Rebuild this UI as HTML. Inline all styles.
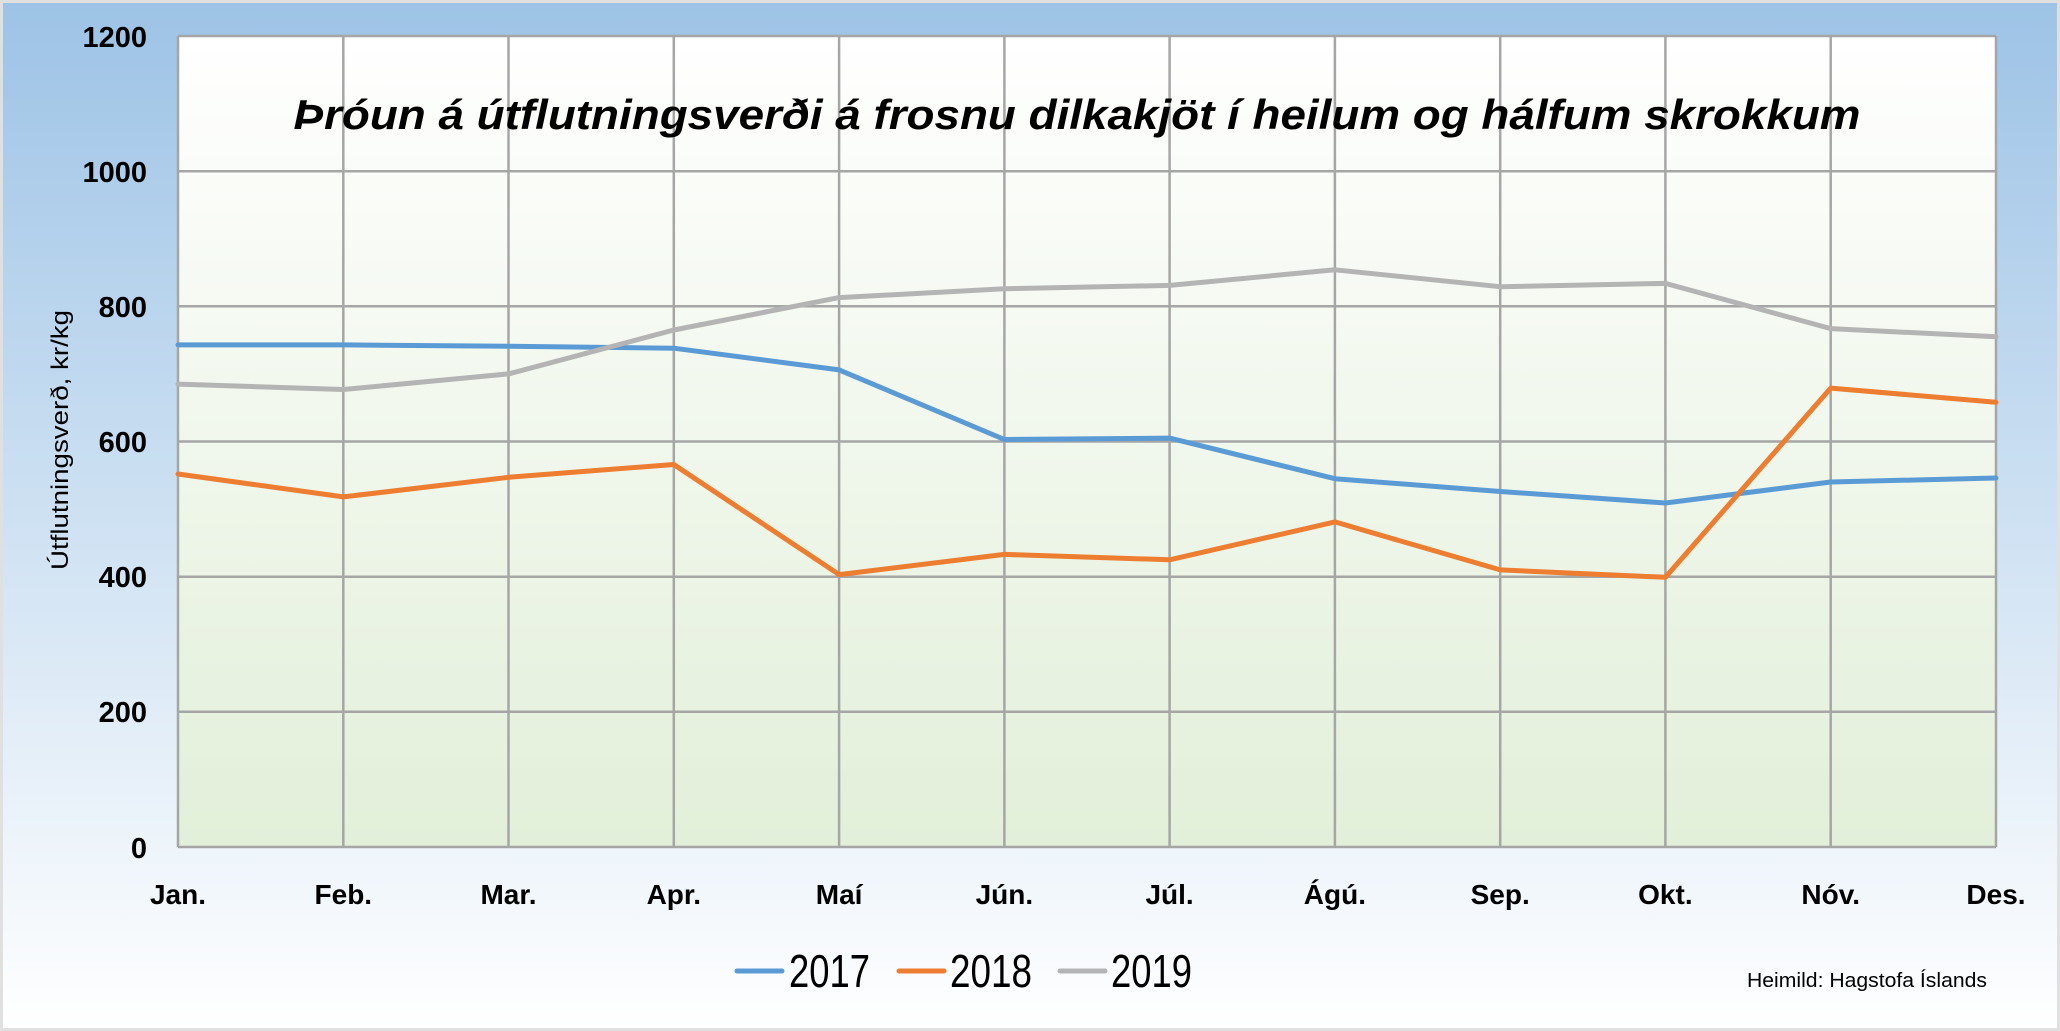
<!DOCTYPE html>
<html><head><meta charset="utf-8"><style>
html,body{margin:0;padding:0;width:2060px;height:1031px;overflow:hidden;background:#fff}
svg{display:block}
text{font-family:"Liberation Sans",sans-serif}
</style></head><body>
<svg width="2060" height="1031" xmlns="http://www.w3.org/2000/svg">
<defs>
<linearGradient id="bg" x1="0" y1="0" x2="0" y2="1">
<stop offset="0" stop-color="#9dc3e6"/><stop offset="1" stop-color="#ffffff"/>
</linearGradient>
<linearGradient id="pa" x1="0" y1="0" x2="0" y2="1">
<stop offset="0" stop-color="#ffffff"/><stop offset="1" stop-color="#e2efd9"/>
</linearGradient>
</defs>
<rect x="0" y="0" width="2060" height="1031" fill="#e0e0e0"/>
<rect x="3" y="3" width="2054" height="1025" fill="url(#bg)"/>
<rect x="178" y="36" width="1818" height="811" fill="url(#pa)"/>
<g stroke="#a6a6a6" stroke-width="2.5">
<line x1="178" y1="36" x2="1996" y2="36"/>
<line x1="178" y1="171.2" x2="1996" y2="171.2"/>
<line x1="178" y1="306.3" x2="1996" y2="306.3"/>
<line x1="178" y1="441.5" x2="1996" y2="441.5"/>
<line x1="178" y1="576.7" x2="1996" y2="576.7"/>
<line x1="178" y1="711.8" x2="1996" y2="711.8"/>
<line x1="178" y1="847" x2="1996" y2="847"/>
<line x1="178" y1="36" x2="178" y2="847"/>
<line x1="343.3" y1="36" x2="343.3" y2="847"/>
<line x1="508.5" y1="36" x2="508.5" y2="847"/>
<line x1="673.8" y1="36" x2="673.8" y2="847"/>
<line x1="839.1" y1="36" x2="839.1" y2="847"/>
<line x1="1004.4" y1="36" x2="1004.4" y2="847"/>
<line x1="1169.6" y1="36" x2="1169.6" y2="847"/>
<line x1="1334.9" y1="36" x2="1334.9" y2="847"/>
<line x1="1500.2" y1="36" x2="1500.2" y2="847"/>
<line x1="1665.4" y1="36" x2="1665.4" y2="847"/>
<line x1="1830.7" y1="36" x2="1830.7" y2="847"/>
<line x1="1996" y1="36" x2="1996" y2="847"/>
</g>
<text x="1077" y="129" font-size="42" font-weight="bold" font-style="italic" text-anchor="middle" textLength="1567" lengthAdjust="spacingAndGlyphs">Þróun á útflutningsverði á frosnu dilkakjöt í heilum og hálfum skrokkum</text>
<g font-size="29" font-weight="bold" text-anchor="end">
<text x="147" y="47">1200</text>
<text x="147" y="182">1000</text>
<text x="147" y="317">800</text>
<text x="147" y="452">600</text>
<text x="147" y="587">400</text>
<text x="147" y="722">200</text>
<text x="147" y="858">0</text>
</g>
<text transform="translate(68,440) rotate(-90)" font-size="24" text-anchor="middle" textLength="260" lengthAdjust="spacingAndGlyphs">Útflutningsverð, kr/kg</text>
<g font-size="28" font-weight="bold" text-anchor="middle">
<text x="178" y="904">Jan.</text><text x="343.3" y="904">Feb.</text><text x="508.5" y="904">Mar.</text>
<text x="673.8" y="904">Apr.</text><text x="839.1" y="904">Maí</text><text x="1004.4" y="904">Jún.</text>
<text x="1169.6" y="904">Júl.</text><text x="1334.9" y="904">Ágú.</text><text x="1500.2" y="904">Sep.</text>
<text x="1665.4" y="904">Okt.</text><text x="1830.7" y="904">Nóv.</text><text x="1996" y="904">Des.</text>
</g>
<g fill="none" stroke-width="5" stroke-linejoin="round" stroke-linecap="round">
<polyline stroke="#5b9bd5" points="178,344.9 343.3,344.9 508.5,346.2 673.8,348.2 839.1,369.9 1004.4,439.5 1169.6,438.1 1334.9,478.7 1500.2,491.5 1665.4,503 1830.7,482 1996,478"/>
<polyline stroke="#ed7d31" points="178,474 343.3,496.9 508.5,477.3 673.8,464.5 839.1,574.6 1004.4,554.4 1169.6,559.8 1334.9,521.9 1500.2,569.9 1665.4,577.3 1830.7,388.1 1996,402.3"/>
<polyline stroke="#b4b4b4" points="178,384.1 343.3,389.5 508.5,373.9 673.8,330 839.1,297.6 1004.4,288.8 1169.6,285.4 1334.9,269.8 1500.2,286.7 1665.4,283.4 1830.7,328.6 1996,336.8"/>
</g>
<g stroke-width="5" stroke-linecap="round">
<line x1="737" y1="971" x2="782" y2="971" stroke="#5b9bd5"/>
<line x1="899" y1="971" x2="944" y2="971" stroke="#ed7d31"/>
<line x1="1060" y1="971" x2="1105" y2="971" stroke="#b4b4b4"/>
</g>
<g font-size="46">
<text x="789" y="987" textLength="81" lengthAdjust="spacingAndGlyphs">2017</text>
<text x="950" y="987" textLength="82" lengthAdjust="spacingAndGlyphs">2018</text>
<text x="1111" y="987" textLength="81" lengthAdjust="spacingAndGlyphs">2019</text>
</g>
<text x="1747" y="987" font-size="20" textLength="240" lengthAdjust="spacingAndGlyphs">Heimild: Hagstofa Íslands</text>
</svg>
</body></html>
